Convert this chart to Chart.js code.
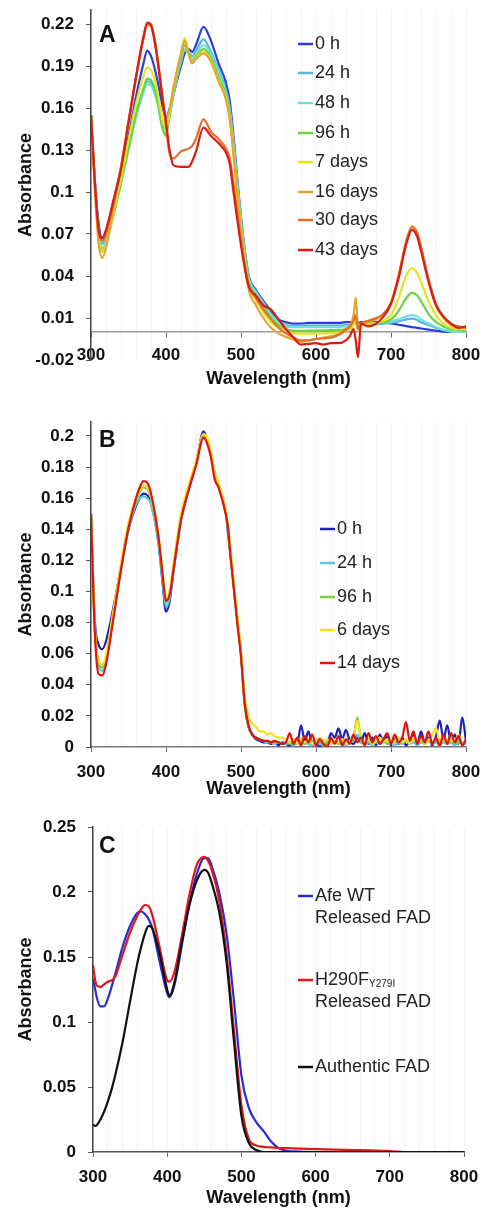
<!DOCTYPE html>
<html>
<head>
<meta charset="utf-8">
<script src="https://cdn.jsdelivr.net/npm/chart.js@4/dist/chart.umd.min.js"></script>
<style>
  html, body { margin: 0; padding: 0; background: #fff; }
  body { width: 482px; height: 1209px; position: relative; overflow: hidden; }
  canvas { position: absolute; left: 0; }
  #chartA { top: 0; }
  #chartB { top: 398px; }
  #chartC { top: 805px; }
</style>
</head>
<body>
<canvas id="chartA" width="482" height="395"></canvas>
<canvas id="chartB" width="482" height="404"></canvas>
<canvas id="chartC" width="482" height="404"></canvas>
<script>
(function() {
  'use strict';

  // --- Shared axis labels ---
  const xTickLabels = [300, 400, 500, 600, 700, 800];
  const yTicksA = [-0.02, 0.01, 0.04, 0.07, 0.10, 0.13, 0.16, 0.19, 0.22];
  const yTicksB = [0, 0.02, 0.04, 0.06, 0.08, 0.10, 0.12, 0.14, 0.16, 0.18, 0.20];
  const yTicksC = [0, 0.05, 0.10, 0.15, 0.20, 0.25];

  // --- Panel A: spectra over 43 days ---
  const labelsA = ['0 h', '24 h', '48 h', '96 h', '7 days', '16 days', '30 days', '43 days'];
  const wavelengthsA = [300,305,310,315,320,330,340,350,360,370,375,380,385,390,395,400,405,410,420,425,
    430,435,440,450,460,470,480,485,490,500,510,520,530,540,550,560,570,580,590,600,610,620,630,640,645,
    650,653,656,660,670,680,690,700,710,720,728,735,740,750,760,770,780,790,800];
  const absA_0h = [.155,.110,.078,.067,.072, .094,.117,.140,.168,.192, .201,.197,.188,.176,.162,
    .153,.160,.170,.190,.199, .202,.200,.205,.218,.208, .192,.178,.165,.140,.082,
    .041,.030,.022,.015,.009, .007,.006,.006,.0065,.0065, .0065,.0065,.0065,.007,.007,
    .007,.0075,.0065,.007,.007, .007,.0068,.0062,.0052,.0042, .0035,.003,.0025,.0017,.001,
    .0003,0,0,0];
  const absA_24h = [.155,.108,.074,.063,.068, .088,.110,.132,.155,.173, .179,.178,.172,.162,.149,
    .145,.156,.170,.193,.201, .200,.197,.201,.209,.200, .187,.173,.160,.136,.080,
    .040,.029,.021,.013,.008, .005,.0045,.0045,.0045,.0045, .0045,.0045,.0045,.005,.005,
    .006,.008,.003,.005,.005, .0055,.006,.0065,.0075,.009, .0095,.0085,.007,.005,.003,
    .0015,.0005,0,0];
  const absA_48h = [.155,.107,.072,.060,.065, .085,.107,.130,.153,.171, .177,.176,.170,.160,.146,
    .142,.155,.170,.194,.202, .199,.195,.199,.205,.198, .185,.171,.158,.134,.079,
    .039,.028,.020,.012,.007, .004,.0035,.0035,.0035,.0035, .0035,.0035,.0035,.004,.004,
    .006,.009,.002,.005,.005, .006,.007,.0075,.009,.011, .012,.011,.009,.006,.0035,
    .0015,.0005,0,0];
  const absA_96h = [.155,.106,.070,.058,.063, .083,.106,.131,.156,.174, .181,.180,.173,.161,.146,
    .140,.155,.171,.196,.205, .199,.193,.197,.202,.196, .182,.169,.155,.131,.077,
    .037,.026,.018,.010,.005, .002,.001,.0008,.001,.001, .0012,.0013,.0015,.002,.003,
    .005,.010,.001,.005,.0055, .006,.007,.009,.015,.024, .028,.026,.022,.013,.007,
    .004,.002,.0015,.001];
  const absA_7d = [.155,.105,.068,.057,.062, .085,.110,.137,.163,.183, .189,.187,.180,.167,.152,
    .145,.158,.174,.199,.210, .200,.192,.196,.200,.194, .180,.167,.153,.128,.074,
    .034,.023,.014,.007,.003, .0005,-.0008,-.0012,-.0012,-.001, -.001,-.0008,-.0005,.001,.002,
    .005,.012,.001,.005,.006, .0065,.008,.012,.024,.040, .0455,.042,.036,.022,.012,
    .006,.003,.002,.002];
  const absA_16d = [.155,.103,.064,.053,.060, .088,.118,.150,.182,.210, .219,.219,.208,.190,.170,
    .152,.160,.175,.199,.208, .199,.192,.195,.199,.193, .179,.166,.152,.126,.071,
    .031,.019,.010,.003,-.001, -.0035,-.0055,-.007,-.006,-.005, -.004,-.003,-.002,.001,.004,
    .012,.0245,.004,.006,.007, .009,.013,.021,.040,.064, .0755,.070,.060,.037,.019,
    .010,.005,.003,.003];
  const absA_30d = [.155,.108,.073,.065,.070, .092,.118,.150,.182,.210, .220,.220,.209,.190,.168,
    .147,.127,.124,.129,.130, .131,.133,.138,.152,.143, .138,.131,.124,.106,.065,
    .034,.024,.016,.009,.003, -.001,-.004,-.006,-.006,-.005, -.0045,-.004,-.002,.002,.004,
    .008,.012,.002,.006,.008, .010,.013,.021,.040,.064, .075,.071,.061,.038,.020,
    .011,.006,.004,.003];
  const absA_43d = [.155,.108,.074,.067,.073, .094,.116,.150,.182,.211, .221,.219,.207,.189,.168,
    .150,.129,.119,.118,.118, .118,.122,.129,.146,.140, .135,.128,.120,.100,.062,
    .033,.026,.019,.016,.009, .002,-.004,-.009,-.0085,-.008, -.009,-.008,-.008,-.006,-.003,
    .002,-.006,-.018,.006,.004, .006,.011,.020,.038,.062, .073,.068,.058,.036,.019,
    .011,.006,.003,.004];
  const colorsA = ['#2b3fd6', '#5fb2e6', '#6fe3d6', '#6fd13f', '#e3e326', '#e2a530', '#e0702e', '#d81e14'];

  // --- Panel B: spectra over 14 days ---
  const labelsB = ['0 h', '24 h', '96 h', '6 days', '14 days'];
  const wavelengthsB = [300,305,310,315,320,330,340,350,360,365,370,375,380,390,395,400,405,410,420,430,
    440,450,455,460,465,470,480,483,485,490,495,500,505,510,
    515,520,525,530,535,540,545,550,555,560,565,570,575,580,585,590,595,600,605,610,
    615,620,625,630,635,640,645,650,655,660,665,670,675,680,685,690,695,700,705,710,
    715,720,725,730,735,740,745,750,755,760,765,770,775,780,785,790,795,800];
  const absB_0h = [.150,.082,.066,.063,.068,.090,.116,.140,.155,.160,.163,.162,.157,.131,.108,.087,.094,
    .113,.146,.165,.182,.203,.197,.189,.176,.168,.150,.136,.128,.105,.082,.060,.028,.013,
    .008,.005,.004,.003,.003,.002,.003,.001,.003,.002, .001,.003,.002,.014,.004,.010,.001,.003,.000,.004,
    .002,.009,.006,.012,.005,.011,.004,.002,.006,.003, .009,.002,.006,.001,.008,.003,.007,.001,.005,.002,
    .006,.001,.004,.008,.002,.010,.003,.006,.001,.007, .017,.005,.014,.003,.008,.002,.019,.004];
  const absB_24h = [.150,.076,.052,.049,.056,.085,.114,.140,.156,.160,.161,.160,.156,.131,.109,.090,.096,
    .113,.146,.165,.182,.200,.197,.188,.175,.168,.150,.138,.129,.105,.081,.059,.027,.013,
    .009,.006,.005,.004,.003,.003,.002,.003,.002,.002, .003,.001,.003,.002,.003,.002,.001,.003,.002,.001,
    .003,.002,.004,.002,.003,.001,.003,.004,.008,.003, .002,.003,.001,.003,.002,.004,.002,.003,.001,.003,
    .002,.004,.002,.003,.001,.003,.002,.004,.002,.003, .001,.003,.002,.003,.001,.003,.002,.002];
  const absB_96h = [.150,.077,.055,.051,.058,.087,.116,.142,.158,.164,.167,.166,.160,.134,.112,.093,.099,
    .116,.148,.167,.183,.201,.198,.188,.175,.168,.150,.139,.130,.105,.082,.060,.027,.013,
    .008,.006,.005,.004,.004,.003,.003,.003,.002,.003, .002,.003,.002,.004,.002,.003,.004,.002,.003,.004,
    .002,.003,.004,.002,.003,.004,.003,.006,.019,.005, .003,.004,.002,.004,.003,.005,.002,.004,.003,.005,
    .002,.004,.003,.005,.003,.004,.002,.005,.003,.004, .002,.005,.003,.004,.002,.004,.003,.002];
  const absB_6d = [.150,.078,.056,.053,.059,.088,.118,.144,.160,.165,.168,.167,.161,.135,.115,.096,.101,
    .118,.150,.168,.184,.201,.199,.190,.177,.170,.152,.142,.132,.108,.085,.062,.032,.020,
    .015,.013,.010,.010,.008,.009,.007,.006,.006,.004, .003,.005,.002,.006,.003,.005,.002,.004,.006,.003,
    .005,.002,.004,.003,.005,.002,.004,.007,.017,.006, .003,.005,.002,.004,.006,.003,.005,.002,.004,.006,
    .003,.005,.002,.006,.003,.005,.002,.004,.008,.012, .004,.006,.002,.005,.003,.008,.002,.004];
  const absB_14d = [.150,.075,.047,.046,.053,.083,.114,.141,.160,.167,.171,.170,.163,.135,.113,.094,.098,
    .114,.146,.165,.181,.199,.195,.186,.172,.167,.149,.140,.128,.104,.080,.058,.028,.014,
    .008,.006,.005,.004,.004,.003,.004,.003,.002,.003, .009,.002,.006,.001,.007,.003,.008,.001,.005,.002,
    .000,.006,.002,.007,.001,.005,.002,.008,.003,.006, .001,.009,.003,.007,.002,.005,.009,.002,.008,.003,
    .006,.016,.004,.010,.002,.007,.003,.010,.002,.006, .001,.008,.002,.009,.003,.007,.001,.005];
  const colorsB = ['#1c22b8', '#5cc6ea', '#76d13a', '#f2e21e', '#e0140c'];

  // --- Panel C: released vs authentic FAD ---
  const labelsC = ['Afe WT\nReleased FAD', 'H290F_{Y279I}\nReleased FAD', 'Authentic FAD'];
  const wavelengthsC = [300,303,305,310,315,320,325,330,340,350,360,365,370,375,380,390,400,403,410,420,
    430,440,450,455,460,470,480,490,500,510,520,530,540,550,560,570,600,650,700,720,750,800];
  const absC_wt = [.133,.125,.119,.112,.112, .118,.127,.137,.158,.174, .184,.185,.183,.179,.172,
    .146,.122,.119,.129,.160, .191,.214,.226,.226,.220, .200,.168,.116,.059,.034,
    .023,.016,.008,.003,.001, .0005,0,0,0,0, 0,0];
  const absC_h290 = [.144,.132,.128,.127,.129, .131,.132,.135,.152,.169, .182,.187,.190,.189,.182,
    .157,.132,.131,.139,.167, .198,.221,.227,.224,.217, .194,.152,.093,.036,.010,
    .005,.004,.0035,.003,.003, .0028,.0022,.0015,.0006,0, 0,0];
  const absC_fad = [.021,.020,.0205,.025,.031, .039,.048,.059,.085,.116, .146,.158,.168,.174,.172,
    .152,.125,.120,.131,.162, .190,.209,.217,.215,.207, .185,.146,.085,.028,.007,
    .0015,0,0,0,0, 0,0,0,0,0, 0,0];
  const colorsC = ['#2a2ccf', '#e0161a', '#111111'];

  // --- Fonts and styles ---
  const family = '"Liberation Sans", Arial, Helvetica, sans-serif';
  const tickFont = { family, size: 17, weight: 'bold' };
  const titleFont = { family, size: 18, weight: 'bold' };
  Chart.defaults.font.family = family;

  // faint vertical grid every 20 nm
  const gridNm = [];
  for (let v = 300; v <= 800; v += 20) gridNm.push(v);

  function toPoints(wl, vals) {
    return wl.map((x, i) => ({ x, y: vals[i] }));
  }

  function makeDatasets(wl, series, labels, colors) {
    return series.map((vals, i) => ({
      label: labels[i],
      data: toPoints(wl, vals),
      borderColor: colors[i],
      borderWidth: 2.2,
      pointRadius: 0,
      cubicInterpolationMode: 'monotone',
      order: series.length - i
    }));
  }

  // --- Legend + panel letter drawn on the canvas ---
  function drawLabelLine(ctx, text, x, y) {
    const m = text.match(/^(.*?)_\{(.*?)\}(.*)$/);
    if (!m) { ctx.fillText(text, x, y); return; }
    ctx.fillText(m[1], x, y);
    let cx = x + ctx.measureText(m[1]).width;
    const base = ctx.font;
    ctx.font = '10px ' + family;
    ctx.fillText(m[2], cx, y + 4);
    cx += ctx.measureText(m[2]).width;
    ctx.font = base;
    if (m[3]) ctx.fillText(m[3], cx, y);
  }

  const panelDecor = {
    id: 'panelDecor',
    afterDraw(chart, args, opts) {
      const ctx = chart.ctx;
      ctx.save();
      ctx.fillStyle = '#111';
      ctx.font = 'bold 23px ' + family;
      ctx.textBaseline = 'alphabetic';
      ctx.textAlign = 'left';
      ctx.fillText(opts.letter, opts.letterX, opts.letterY);

      ctx.font = '18px ' + family;
      ctx.textBaseline = 'middle';
      ctx.fillStyle = '#222';
      chart.data.datasets.forEach((ds, i) => {
        const y = opts.ys[i];
        ctx.strokeStyle = ds.borderColor;
        ctx.lineWidth = 2.5;
        ctx.beginPath();
        ctx.moveTo(opts.lineX, y);
        ctx.lineTo(opts.lineX + 15, y);
        ctx.stroke();
        String(ds.label).split('\n').forEach((line, k) => {
          drawLabelLine(ctx, line, opts.lineX + 17, y + k * opts.lineGap);
        });
      });
      ctx.restore();
    }
  };

  function buildOptions(p) {
    return {
      responsive: false,
      animation: false,
      layout: { padding: { top: p.padTop, right: p.padRight, bottom: p.padBottom, left: 0 } },
      plugins: {
        legend: { display: false },
        tooltip: { enabled: false },
        panelDecor: p.decor
      },
      scales: {
        x: {
          type: 'linear',
          min: 300,
          max: 800,
          position: p.xPosition,
          afterBuildTicks: s => { s.ticks = gridNm.map(v => ({ value: v })); },
          afterFit: s => { s.height = p.xHeight; s.paddingLeft = 0; s.paddingRight = 0; },
          ticks: {
            autoSkip: false, maxRotation: 0, minRotation: 0,
            padding: p.xLabelPad, color: '#111', font: tickFont,
            callback: v => xTickLabels.includes(v) ? String(v) : ''
          },
          grid: {
            color: '#f3f3f3',
            lineWidth: 1,
            tickLength: 5,
            tickColor: c => (c.tick && xTickLabels.includes(c.tick.value)) ? '#666' : 'rgba(0,0,0,0)'
          },
          border: { color: p.xBorder, width: 1.5 },
          title: {
            display: true, text: 'Wavelength (nm)', font: titleFont, color: '#111',
            padding: { top: 0, bottom: p.xTitlePad }
          }
        },
        y: {
          min: p.yMin,
          max: p.yMax,
          afterBuildTicks: s => { s.ticks = p.yTicks.map(v => ({ value: v })); },
          afterFit: s => { s.width = p.yWidth; s.paddingTop = 0; s.paddingBottom = 0; },
          ticks: { padding: 12, color: '#111', font: tickFont, callback: v => String(+Number(v).toFixed(2)) },
          grid: { drawOnChartArea: false, tickLength: 5, tickColor: '#555' },
          border: { color: '#444', width: 1.5 },
          title: {
            display: true, text: 'Absorbance', font: titleFont, color: '#111',
            padding: { top: 15, bottom: 0 }
          }
        }
      }
    };
  }

  // --- Panel A ---
  new Chart(document.getElementById('chartA'), {
    type: 'line',
    data: {
      datasets: makeDatasets(wavelengthsA,
        [absA_0h, absA_24h, absA_48h, absA_96h, absA_7d, absA_16d, absA_30d, absA_43d], labelsA, colorsA)
    },
    options: buildOptions({
      padTop: 10, padRight: 16, padBottom: 35,
      xPosition: { y: 0 }, xHeight: 58, xLabelPad: 8, xTitlePad: 0, xBorder: '#9a9a9a',
      yMin: -0.02, yMax: 0.23, yTicks: yTicksA, yWidth: 91,
      decor: { letter: 'A', letterX: 99, letterY: 42, lineX: 298, ys: [44, 73, 103, 133, 162, 192, 220, 250], lineGap: 22 }
    }),
    plugins: [panelDecor]
  });

  // --- Panel B ---
  new Chart(document.getElementById('chartB'), {
    type: 'line',
    data: {
      datasets: makeDatasets(wavelengthsB,
        [absB_0h, absB_24h, absB_96h, absB_6d, absB_14d], labelsB, colorsB)
    },
    options: buildOptions({
      padTop: 24, padRight: 16, padBottom: 0,
      xPosition: 'bottom', xHeight: 55, xLabelPad: 10, xTitlePad: 2, xBorder: '#777',
      yMin: 0, yMax: 0.209, yTicks: yTicksB, yWidth: 91,
      decor: { letter: 'B', letterX: 99, letterY: 49, lineX: 320, ys: [131, 165, 199, 232, 265], lineGap: 22 }
    }),
    plugins: [panelDecor]
  });

  // --- Panel C ---
  new Chart(document.getElementById('chartC'), {
    type: 'line',
    data: {
      datasets: makeDatasets(wavelengthsC, [absC_wt, absC_h290, absC_fad], labelsC, colorsC)
    },
    options: buildOptions({
      padTop: 22, padRight: 18, padBottom: 0,
      xPosition: 'bottom', xHeight: 57, xLabelPad: 10, xTitlePad: 0, xBorder: '#555',
      yMin: 0, yMax: 0.25, yTicks: yTicksC, yWidth: 93,
      decor: { letter: 'C', letterX: 99, letterY: 48, lineX: 298, ys: [91, 175, 262], lineGap: 22 }
    }),
    plugins: [panelDecor]
  });
})();
</script>
</body>
</html>
